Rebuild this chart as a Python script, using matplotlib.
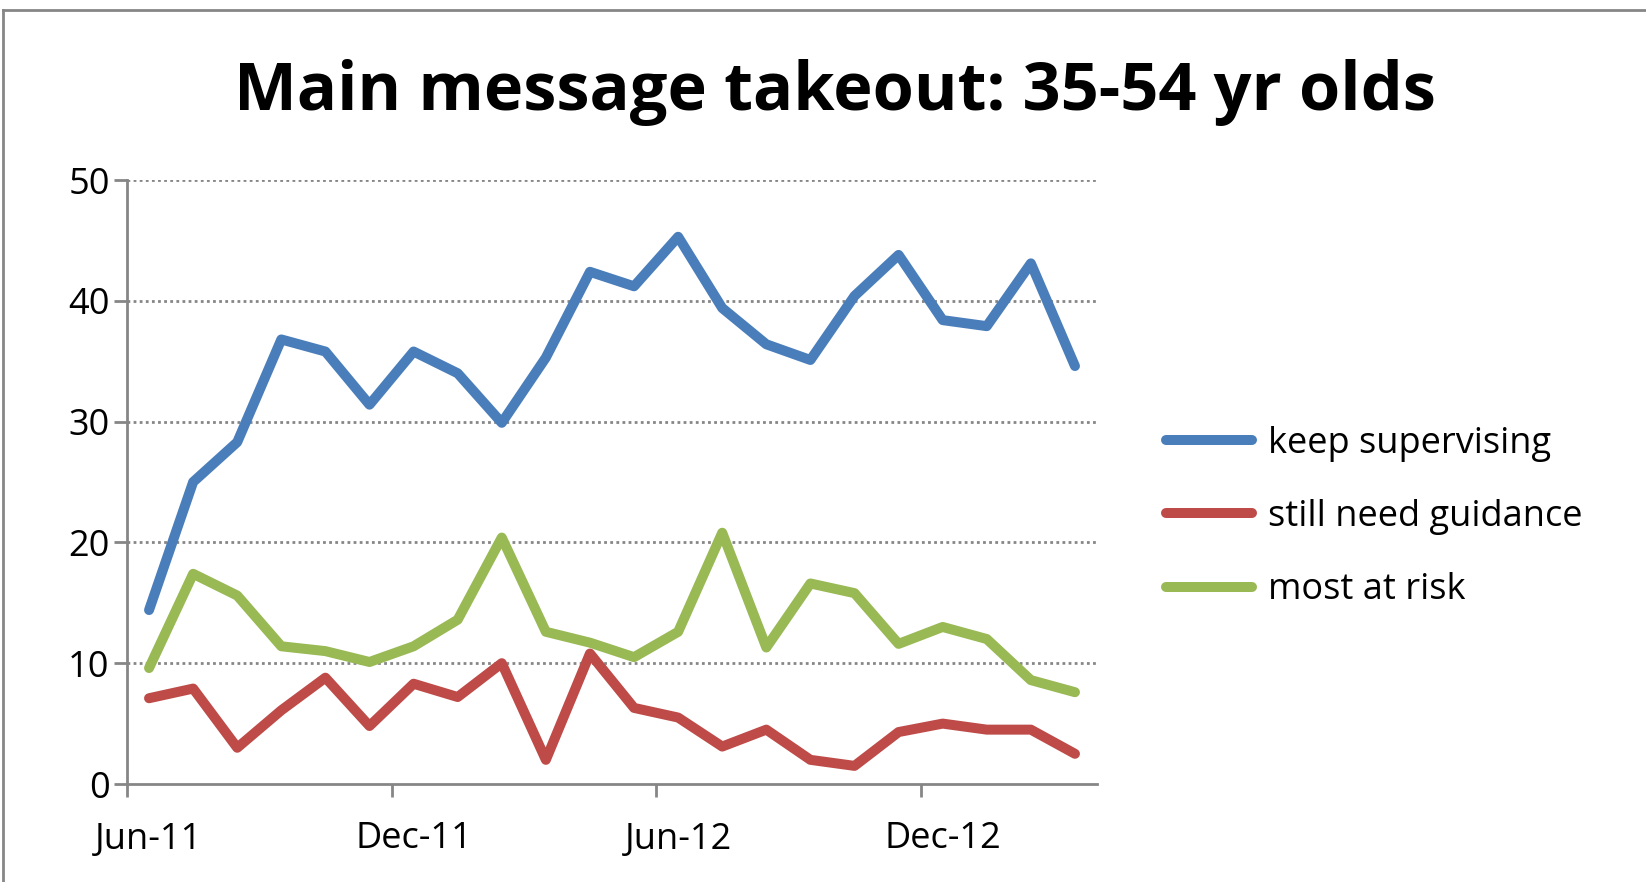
import numpy as np
import matplotlib
matplotlib.use("Agg")
import matplotlib.pyplot as plt
from matplotlib.lines import Line2D

# monthly survey values, Jun-11 .. Mar-13
months = ["Jun-11", "Jul-11", "Aug-11", "Sep-11", "Oct-11", "Nov-11", "Dec-11",
          "Jan-12", "Feb-12", "Mar-12", "Apr-12", "May-12", "Jun-12", "Jul-12",
          "Aug-12", "Sep-12", "Oct-12", "Nov-12", "Dec-12", "Jan-13", "Feb-13", "Mar-13"]
keep_supervising = [14.4, 25.0, 28.3, 36.8, 35.8, 31.4, 35.8, 34.0, 29.9, 35.3, 42.4,
                    41.2, 45.3, 39.4, 36.4, 35.1, 40.4, 43.8, 38.4, 37.9, 43.1, 34.6]
still_need_guidance = [7.1, 7.9, 3.0, 6.1, 8.8, 4.8, 8.3, 7.2, 10.0, 2.0, 10.8,
                       6.3, 5.5, 3.1, 4.5, 2.0, 1.5, 4.3, 5.0, 4.5, 4.5, 2.5]
most_at_risk = [9.6, 17.4, 15.6, 11.4, 11.0, 10.1, 11.4, 13.6, 20.4, 12.6, 11.7,
                10.5, 12.6, 20.8, 11.3, 16.6, 15.8, 11.6, 13.0, 12.0, 8.6, 7.6]
label_months = ["Jun-11", "Dec-11", "Jun-12", "Dec-12"]

series = [
    ("keep supervising", keep_supervising, "#4A7EBB"),
    ("still need guidance", still_need_guidance, "#BE4B48"),
    ("most at risk", most_at_risk, "#98B954"),
]

font = "Open Sans"
axis_grey = "#868686"
fs = 26
lw = 7.2

W, H = 1646, 882
fig = plt.figure(figsize=(W / 100, H / 100), dpi=100)
ax = fig.add_axes([127 / W, 1 - 784 / H, 970 / W, 604 / H])

# points sit in the middle of each month slot
x = np.arange(len(months)) + 0.5
for name, vals, col in series:
    ax.plot(x, vals, color=col, lw=lw, label=name,
            solid_capstyle="round", solid_joinstyle="round")

ax.set_xlim(0, len(months))
ax.set_ylim(0, 50)

# y axis
ax.set_yticks(range(0, 51, 10))
ax.tick_params(axis="y", direction="out", length=9.5, width=2, color=axis_grey,
               pad=3, labelsize=fs)
for v in range(10, 51, 10):
    ax.axhline(v, color=axis_grey, lw=2, ls=(0, (1, 1.2)), zorder=0)

# x axis: ticks at month boundaries, labels at month centres
lab_idx = [months.index(m) for m in label_months]
ax.set_xticks([i + 0.5 for i in lab_idx])
ax.set_xticklabels(label_months)
ax.set_xticks(lab_idx, minor=True)
ax.tick_params(axis="x", which="major", length=0, pad=27, labelsize=fs)
ax.tick_params(axis="x", which="minor", direction="out", length=9, width=2,
               color=axis_grey)

for s in ["top", "right"]:
    ax.spines[s].set_visible(False)
for s in ["left", "bottom"]:
    ax.spines[s].set_color(axis_grey)
    ax.spines[s].set_linewidth(2)

for lbl in ax.get_xticklabels() + ax.get_yticklabels():
    lbl.set_fontfamily(font)

fig.text(835 / W, 1 - 110 / H, "Main message takeout: 35-54 yr olds",
         ha="center", va="baseline", fontsize=48, fontweight="bold", fontfamily=font)

leg = fig.legend(loc="center left", bbox_to_anchor=(1133 / W, 1 - 517 / H),
                 frameon=False, prop={"family": font, "size": fs},
                 handlelength=2.4, handletextpad=0.45, labelspacing=1.03)
for h in leg.get_lines():
    h.set_solid_capstyle("round")
    h.set_linewidth(lw)

# chart frame (only top and left edges fall inside the picture)
fig.add_artist(Line2D([3 / W, 3 / W], [0, 1 - 10 / H], color=axis_grey, lw=2))
fig.add_artist(Line2D([3 / W, 1], [1 - 10 / H, 1 - 10 / H], color=axis_grey, lw=2))

fig.savefig("out.png", dpi=100)
